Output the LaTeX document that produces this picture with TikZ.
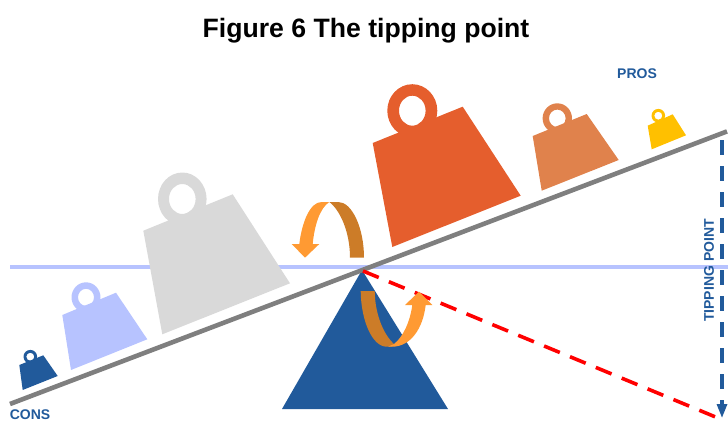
\documentclass[tikz,border=0pt]{standalone}
\usepackage{fontspec}
\setmainfont{Liberation Sans}
\usetikzlibrary{arrows.meta}
\definecolor{navy}{HTML}{215A9B}
\definecolor{peri}{HTML}{B7C3FF}
\definecolor{lgray}{HTML}{D9D9D9}
\definecolor{dorange}{HTML}{E55E2D}
\definecolor{peach}{HTML}{E0824C}
\definecolor{gold}{HTML}{FFC000}
\definecolor{beamgray}{HTML}{7F7F7F}
\definecolor{arrowlight}{HTML}{FF9A33}
\definecolor{arrowdark}{HTML}{CC7C28}
\tikzset{
  ring/.style={fill=#1,even odd rule},
  labeltext/.style={font=\bfseries\fontsize{14}{16}\selectfont,text=navy,inner sep=0pt},
  guide/.style={draw=peri,line width=3.6pt},
  beam/.style={draw=beamgray,line width=4.6pt},
  reddash/.style={draw=red,line width=3.6pt,dash pattern=on 17pt off 11pt},
  bluedash/.style={draw=navy,line width=3.6pt,dash pattern=on 15pt off 11pt},
  bluetip/.style={fill=navy}
}
\begin{document}
\begin{tikzpicture}[x=1pt,y=-1pt]
\useasboundingbox (0,0) rectangle (728,423);
\node[inner sep=0pt,font=\bfseries\fontsize{26.6}{30}\selectfont] (title) at (366,31) {Figure 6 The tipping point};

\coordinate (hl) at (10,267);
\coordinate (hr) at (728,267);
\draw[guide] (hl) -- (hr);

% weights
\path[ring=navy] (30.3,356.7) ellipse [x radius=6.8,y radius=6.8] (30.3,356.7) ellipse [x radius=4,y radius=4];
\fill[navy] (19.3,365) -- (43.3,355.3) -- (57.7,376) -- (22.7,390) -- cycle;

\path[ring=peri] (86,297.3) ellipse [x radius=14.5,y radius=15] (86,297.3) ellipse [x radius=8,y radius=8.5];
\fill[peri] (62.3,315) -- (116,292.7) -- (147.3,339.3) -- (71,370) -- cycle;

\path[ring=lgray] (182.3,199) ellipse [x radius=24.3,y radius=26.5] (182.3,199) ellipse [x radius=13.3,y radius=15];
\fill[lgray] (143.3,230.7) -- (232.7,194.3) -- (290,283.3) -- (162.3,334.3) -- cycle;

\path[ring=dorange] (412.3,110.7) ellipse [x radius=25,y radius=26.5] (412.3,110.7) ellipse [x radius=13.3,y radius=15];
\fill[dorange] (372.7,143) -- (462.7,106.7) -- (520.7,195.7) -- (392.3,247) -- cycle;

\path[ring=peach] (557.3,118.3) ellipse [x radius=14.7,y radius=15] (557.3,118.3) ellipse [x radius=8.3,y radius=8.7];
\fill[peach] (532.7,136) -- (586.7,114) -- (618.7,160) -- (541.7,190.7) -- cycle;

\path[ring=gold] (658.3,115.7) ellipse [x radius=6.8,y radius=6.8] (658.3,115.7) ellipse [x radius=4,y radius=4];
\fill[gold] (647.7,125.7) -- (672.7,114.3) -- (686,135.3) -- (651.7,149.3) -- cycle;

% fulcrum
\fill[navy] (362,270) -- (448,409) -- (282,409) -- cycle;

% beam
\coordinate (bl) at (10,404);
\coordinate (br) at (727,131.4);
\draw[beam] (bl) -- (br);

% red dashed
\coordinate (pivot) at (363,271);
\coordinate (redend) at (718,418);
\draw[reddash] (pivot) -- (redend);

% blue dashed arrow
\coordinate (bluetop) at (722,140);
\coordinate (blueend) at (722,404);
\draw[bluedash] (bluetop) -- (blueend);
\fill[bluetip] (716.5,404) -- (727.5,404) -- (722,417.5) -- cycle;

% upper curved arrow
\fill[arrowdark] (350,257.7) .. controls (350,232) and (340,210) .. (329.3,202)
  -- (338.3,202) .. controls (352,202) and (364,228) .. (364,257.7) -- cycle;
\fill[arrowlight] (329.3,202) .. controls (320,208) and (314.5,225) .. (312.7,244)
  -- (319.3,244) -- (305,257.7) -- (291.7,244) -- (299.3,244)
  .. controls (302,222) and (310,202) .. (321.7,202) -- cycle;

% lower curved arrow
\fill[arrowdark] (360.7,291) .. controls (361,320) and (372,346.7) .. (386.7,346.7)
  -- (392,346.7) -- (394,344) .. controls (384,335) and (375,315) .. (374.7,291) -- cycle;
\fill[arrowlight] (394,344) .. controls (403,337) and (410,322) .. (412.3,305)
  -- (405,305) -- (419,291.7) -- (432.3,305) -- (425.7,305)
  .. controls (423,328) and (411,346.7) .. (392,346.7) -- (388,346.7) -- cycle;

% labels
\node[labeltext] (pros) at (637,74) {PROS};
\node[labeltext] (cons) at (30,415) {CONS};
\node[labeltext,rotate=90] (tip) at (709,270.5) {TIPPING POINT};
\end{tikzpicture}
\end{document}
